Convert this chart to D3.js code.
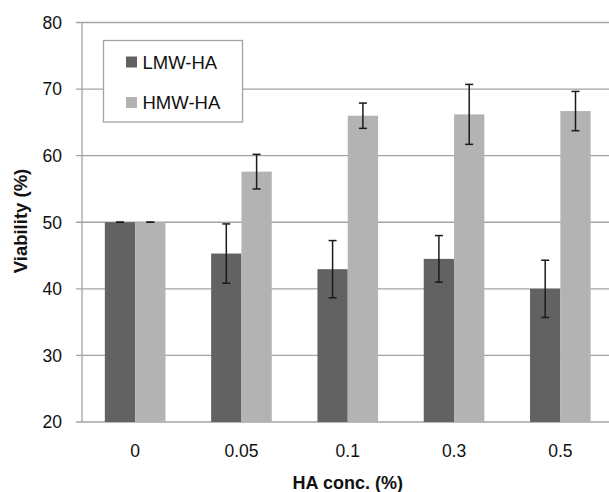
<!DOCTYPE html>
<html>
<head>
  <meta charset="utf-8">
  <title>Viability vs HA concentration</title>
  <script src="https://d3js.org/d3.v7.min.js"></script>
  <style>
    body { margin: 0; background: #fff; }
    text { font-family: "Liberation Sans", Arial, sans-serif; fill: #111; }
    .grid line { stroke: #a3a3a3; stroke-width: 1.3px; }
    .err { stroke: #1a1a1a; stroke-width: 1.5px; }
  </style>
</head>
<body>
  <svg width="609" height="492"></svg>
  <script>
    // data
    const categories = ["0", "0.05", "0.1", "0.3", "0.5"];
    const seriesNames = ["LMW-HA", "HMW-HA"];
    const lmwValues = [50, 45.3, 42.95, 44.5, 40];
    const lmwErrors = [0, 4.45, 4.3, 3.5, 4.3];
    const hmwValues = [50, 57.6, 66, 66.2, 66.7];
    const hmwErrors = [0, 2.6, 1.9, 4.5, 2.95];
    const yTicks = [20, 30, 40, 50, 60, 70, 80];
    const colors = ["#626262", "#b3b3b3"];

    const svg = d3.select("svg");

    const x0 = d3.scaleBand().domain(categories).range([82, 613.5]);
    const x1 = d3.scaleBand().domain(seriesNames)
      .range([0, x0.bandwidth()]).paddingOuter(0.754);
    const y = d3.scaleLinear().domain([20, 80]).range([422, 22.5]);

    // gridlines
    svg.append("g").attr("class", "grid")
      .selectAll("line").data(yTicks).enter().append("line")
      .attr("x1", 76).attr("x2", 609)
      .attr("y1", d => y(d)).attr("y2", d => y(d));

    // y axis line
    svg.append("line")
      .attr("x1", 82).attr("x2", 82)
      .attr("y1", y(80)).attr("y2", y(20))
      .attr("stroke", "#a3a3a3").attr("stroke-width", 1.3);

    // y tick labels
    svg.append("g").selectAll("text").data(yTicks).enter().append("text")
      .attr("x", 62).attr("y", d => y(d))
      .attr("dy", "0.36em")
      .attr("text-anchor", "end")
      .style("font-size", "17.5px")
      .text(d => d);

    const rows = categories.map((c, i) => ({
      cat: c,
      vals: [
        {s: seriesNames[0], v: lmwValues[i], e: lmwErrors[i], c: colors[0]},
        {s: seriesNames[1], v: hmwValues[i], e: hmwErrors[i], c: colors[1]}
      ]
    }));

    const groups = svg.append("g").selectAll("g").data(rows).enter().append("g")
      .attr("transform", d => `translate(${x0(d.cat)},0)`);

    groups.selectAll("rect").data(d => d.vals).enter().append("rect")
      .attr("x", d => x1(d.s))
      .attr("width", x1.bandwidth())
      .attr("y", d => y(d.v))
      .attr("height", d => y(20) - y(d.v))
      .attr("fill", d => d.c);

    // error bars
    const cap = 4;
    const eb = groups.selectAll("g.eb").data(d => d.vals).enter().append("g")
      .attr("class", "eb");
    eb.append("line").attr("class", "err")
      .attr("x1", d => x1(d.s) + x1.bandwidth() / 2)
      .attr("x2", d => x1(d.s) + x1.bandwidth() / 2)
      .attr("y1", d => y(d.v - d.e)).attr("y2", d => y(d.v + d.e));
    eb.append("line").attr("class", "err")
      .attr("x1", d => x1(d.s) + x1.bandwidth() / 2 - cap)
      .attr("x2", d => x1(d.s) + x1.bandwidth() / 2 + cap)
      .attr("y1", d => y(d.v + d.e)).attr("y2", d => y(d.v + d.e));
    eb.append("line").attr("class", "err")
      .attr("x1", d => x1(d.s) + x1.bandwidth() / 2 - cap)
      .attr("x2", d => x1(d.s) + x1.bandwidth() / 2 + cap)
      .attr("y1", d => y(d.v - d.e)).attr("y2", d => y(d.v - d.e));

    // x tick labels
    svg.append("g").selectAll("text").data(categories).enter().append("text")
      .attr("x", d => x0(d) + x0.bandwidth() / 2)
      .attr("y", 451).attr("dy", "0.36em")
      .attr("text-anchor", "middle")
      .style("font-size", "17.5px")
      .text(d => d);

    // axis titles
    svg.append("text")
      .attr("x", (82 + 613.5) / 2).attr("y", 483).attr("dy", "0.36em")
      .attr("text-anchor", "middle")
      .style("font-size", "18px").style("font-weight", "bold")
      .text("HA conc. (%)");

    svg.append("text")
      .attr("transform", "translate(20,221) rotate(-90)")
      .attr("dy", "0.36em")
      .attr("text-anchor", "middle")
      .style("font-size", "18.5px").style("font-weight", "bold")
      .text("Viability (%)");

    // legend
    const leg = svg.append("g");
    leg.append("rect")
      .attr("x", 103.5).attr("y", 40.5).attr("width", 139).attr("height", 81.5)
      .attr("fill", "#fff").attr("stroke", "#a3a3a3").attr("stroke-width", 1.3);
    const li = leg.selectAll("g").data(seriesNames).enter().append("g")
      .attr("transform", (d, i) => `translate(126,${62 + i * 40.5})`);
    li.append("rect").attr("x", 0).attr("y", -5.5).attr("width", 11).attr("height", 11)
      .attr("fill", (d, i) => colors[i]);
    li.append("text").attr("x", 16.5).attr("y", 0).attr("dy", "0.36em")
      .style("font-size", "18.5px")
      .text(d => d);
  </script>
</body>
</html>
